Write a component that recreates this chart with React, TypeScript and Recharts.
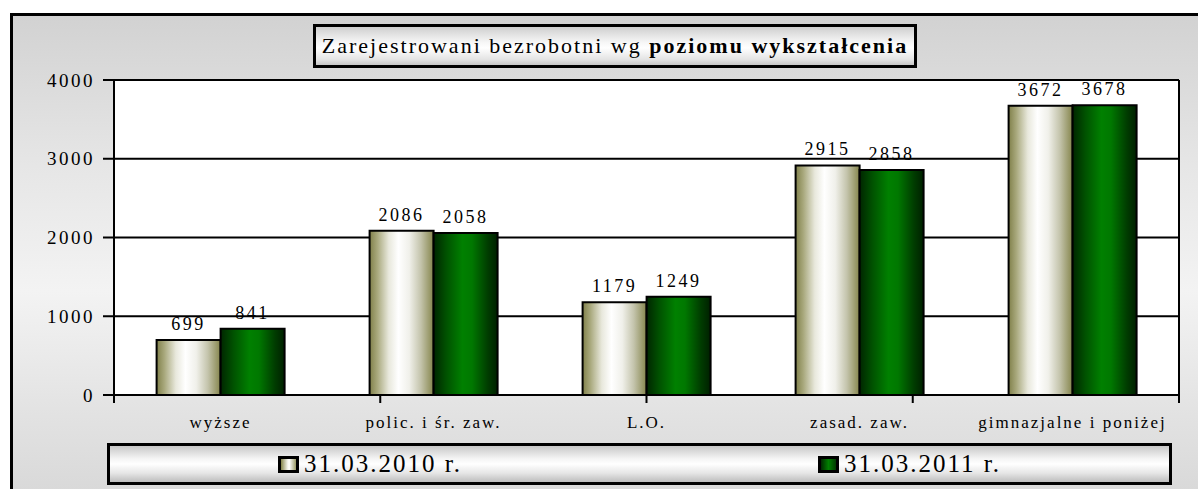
import React from 'react'
import {
  BarChart, Bar, XAxis, YAxis, CartesianGrid, LabelList, Legend,
} from 'recharts'

const categories = ['wyższe', 'polic. i śr. zaw.', 'L.O.', 'zasad. zaw.', 'gimnazjalne i poniżej']
const values2010 = [699, 2086, 1179, 2915, 3672]
const values2011 = [841, 2058, 1249, 2858, 3678]
const yTicks = [0, 1000, 2000, 3000, 4000]
const edgeTicks = [0, 1, 2, 3, 4, 5]
const seriesNames = ['31.03.2010 r.', '31.03.2011 r.']

const data = categories.map((name, i) => ({ name, y2010: values2010[i], y2011: values2011[i] }))

const serif = '"Liberation Serif", serif'

function LegendBox() {
  const items = [
    { label: seriesNames[0], bg: 'linear-gradient(to right, #85854c, #f4f4ee 45%, #fff 55%, #9a9a64)' },
    { label: seriesNames[1], bg: 'linear-gradient(to right, #002a00, #008000 50%, #003a00)' },
  ]
  return (
    <div
      style={{
        boxSizing: 'border-box', width: '100%', height: '100%',
        border: '3px solid #000',
        background: 'linear-gradient(to bottom, #c8c8c8 0%, #f4f4f4 35%, #ffffff 50%, #e6e6e6 75%, #bdbdbd 100%)',
        display: 'flex', alignItems: 'center', justifyContent: 'center', gap: 356,
        fontFamily: serif, fontSize: 25, letterSpacing: 2, color: '#000',
      }}
    >
      {items.map((it) => (
        <span key={it.label} style={{ display: 'flex', alignItems: 'center', gap: 5 }}>
          <span style={{ boxSizing: 'border-box', width: 21, height: 17, border: '3px solid #000', background: it.bg }} />
          {it.label}
        </span>
      ))}
    </div>
  )
}

export default function App() {
  return (
    <div style={{ position: 'absolute', left: 0, top: 0, width: 1198, height: 489, overflow: 'hidden' }}>
      <div
        style={{
          position: 'absolute', left: 10, top: 13, width: 1220, height: 500,
          border: '3px solid #000',
          background: 'linear-gradient(to bottom, #d2d2d2 0%, #e6e6e6 30%, #f3f3f3 55%, #e2e2e2 80%, #d6d6d6 100%)',
        }}
      />
      <div
        style={{
          position: 'absolute', left: 313, top: 24, width: 604, height: 44, boxSizing: 'border-box',
          border: '3px solid #000',
          background: 'linear-gradient(to bottom, #cfcfcf 0%, #f6f6f6 40%, #ffffff 55%, #e4e4e4 85%, #c6c6c6 100%)',
          display: 'flex', alignItems: 'center', justifyContent: 'center',
          fontFamily: serif, fontSize: 22, color: '#000', letterSpacing: 2, whiteSpace: 'nowrap',
        }}
      >
        <span>Zarejestrowani bezrobotni wg&nbsp;<b>poziomu wykształcenia</b></span>
      </div>
      <div style={{ position: 'absolute', left: 0, top: 0 }}>
        <BarChart
          width={1198}
          height={489}
          data={data}
          margin={{ top: 80, right: 18, left: 10, bottom: 21 }}
          barGap={0}
          barCategoryGap="20%"
        >
          <defs>
            <linearGradient id="olive" x1="0" y1="0" x2="1" y2="0">
              <stop offset="0%" stopColor="#80804a" />
              <stop offset="12%" stopColor="#a8a87c" />
              <stop offset="30%" stopColor="#e8e8dc" />
              <stop offset="45%" stopColor="#ffffff" />
              <stop offset="62%" stopColor="#f0f0ea" />
              <stop offset="80%" stopColor="#c4c4ac" />
              <stop offset="100%" stopColor="#85854c" />
            </linearGradient>
            <linearGradient id="green" x1="0" y1="0" x2="1" y2="0">
              <stop offset="0%" stopColor="#002600" />
              <stop offset="20%" stopColor="#005200" />
              <stop offset="45%" stopColor="#008000" />
              <stop offset="60%" stopColor="#007800" />
              <stop offset="85%" stopColor="#003c00" />
              <stop offset="100%" stopColor="#002000" />
            </linearGradient>
          </defs>
          <CartesianGrid vertical={false} stroke="#000" strokeWidth={2} fill="#fff" />
          <XAxis
            type="number"
            domain={[0, 5]}
            ticks={edgeTicks}
            interval={0}
            tickFormatter={() => ''}
            tickSize={8}
            tickLine={{ stroke: '#000', strokeWidth: 2 }}
            axisLine={{ stroke: '#000', strokeWidth: 2 }}
            height={1}
          />
          <XAxis
            xAxisId="cat"
            dataKey="name"
            axisLine={false}
            tickLine={false}
            height={30}
            tick={{ fontFamily: serif, fontSize: 17, fill: '#000', letterSpacing: 2 }}
            dy={12}
          />
          <YAxis
            domain={[0, 4000]}
            ticks={yTicks}
            width={104}
            tickSize={11}
            tickLine={{ stroke: '#000', strokeWidth: 2 }}
            axisLine={{ stroke: '#000', strokeWidth: 2 }}
            tick={{ fontFamily: serif, fontSize: 19, fill: '#000', letterSpacing: 2.5 }}
            dx={-6}
          />
          <YAxis yAxisId="r" orientation="right" width={1} tick={false} tickLine={false} axisLine={{ stroke: '#000', strokeWidth: 2 }} />
          <Legend
            content={() => <LegendBox />}
            wrapperStyle={{ position: 'absolute', left: 107, top: 443, width: 1065, height: 42 }}
          />
          <Bar xAxisId="cat" dataKey="y2010" name={seriesNames[0]} fill="url(#olive)" stroke="#000" strokeWidth={2} isAnimationActive={false}>
            <LabelList dataKey="y2010" position="top" offset={10} style={{ fontFamily: serif, fontSize: 18, fill: '#000', letterSpacing: 2.5 }} />
          </Bar>
          <Bar xAxisId="cat" dataKey="y2011" name={seriesNames[1]} fill="url(#green)" stroke="#000" strokeWidth={2} isAnimationActive={false}>
            <LabelList dataKey="y2011" position="top" offset={10} style={{ fontFamily: serif, fontSize: 18, fill: '#000', letterSpacing: 2.5 }} />
          </Bar>
        </BarChart>
      </div>
    </div>
  )
}
